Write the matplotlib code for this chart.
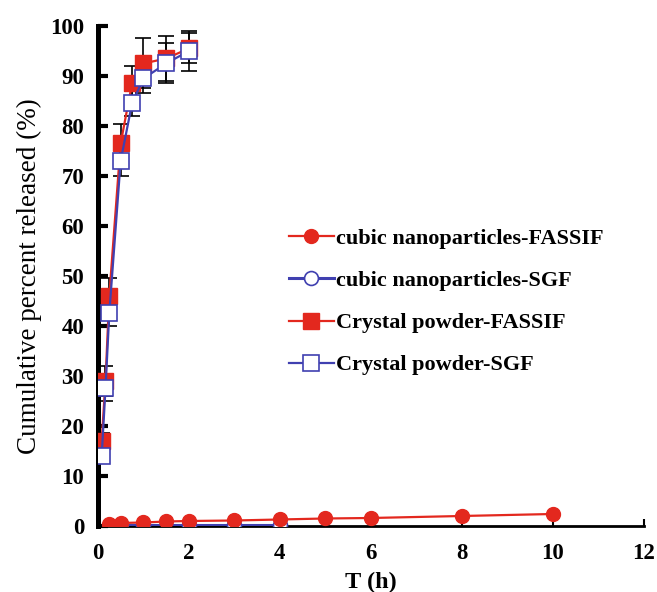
import numpy as np
import matplotlib
matplotlib.use("Agg")
import matplotlib.pyplot as plt

# --- dati ---
nano_t_fassif = [0.25, 0.5, 1, 1.5, 2, 3, 4, 5, 6, 8, 10]
nano_fassif = [0.3, 0.6, 0.7, 0.9, 1.0, 1.1, 1.3, 1.5, 1.6, 2.0, 2.4]

nano_t_sgf = [0.5, 1, 2, 3, 4]
nano_sgf = [0.1, 0.1, 0.1, 0.1, 0.1]

crystal_t = [0.083, 0.167, 0.25, 0.5, 0.75, 1, 1.5, 2]
crystal_fassif = [17, 29, 46, 76.5, 88.5, 92.5, 93.5, 95.5]
crystal_fassif_err = [1.5, 3, 3.5, 3.8, 3.5, 5, 4.5, 3]
crystal_sgf = [14, 27.5, 42.5, 73, 84.5, 89.5, 92.5, 95]
crystal_sgf_err = [1.5, 2.5, 2.5, 3, 2.5, 3, 4, 4]

labels = ["cubic nanoparticles-FASSIF", "cubic nanoparticles-SGF",
          "Crystal powder-FASSIF", "Crystal powder-SGF"]

red = "#e3281e"
blue = "#4040b0"
serif = "Liberation Serif"

fig = plt.figure(figsize=(6.57, 5.92), dpi=100)
ax = fig.add_axes([0.149, 0.1115, 0.831, 0.8446])

h1, = ax.plot(nano_t_fassif, nano_fassif, color=red, lw=1.6, marker="o",
              ms=10, mfc=red, mec=red, zorder=4)
h2, = ax.plot(nano_t_sgf, nano_sgf, color=blue, lw=2.2, marker="o",
              ms=10, mfc="white", mec=blue, mew=1.2, zorder=3)

ax.errorbar(crystal_t, crystal_fassif, yerr=crystal_fassif_err, fmt="none",
            ecolor="black", elinewidth=1.2, capsize=5.5, capthick=1.2, zorder=2)
ax.errorbar(crystal_t, crystal_sgf, yerr=crystal_sgf_err, fmt="none",
            ecolor="black", elinewidth=1.2, capsize=5.5, capthick=1.2, zorder=2)
h3, = ax.plot(crystal_t, crystal_fassif, color=red, lw=1.6, marker="s",
              ms=11.5, mfc=red, mec=red, zorder=3)
h4, = ax.plot(crystal_t, crystal_sgf, color=blue, lw=1.6, marker="s",
              ms=11.5, mfc="white", mec=blue, mew=1.2, zorder=4)

ax.set_xlim(0, 12)
ax.set_ylim(0, 100)
ax.set_xticks(np.arange(0, 13, 2))
ax.set_yticks(np.arange(0, 101, 10))

for s in ["top", "right"]:
    ax.spines[s].set_visible(False)
ax.spines["left"].set_linewidth(3.6)
ax.spines["bottom"].set_linewidth(2)
ax.tick_params(axis="y", direction="in", length=7, width=3, pad=10)
ax.tick_params(axis="x", direction="in", length=5, width=1.5, pad=12)

for lab in ax.get_xticklabels() + ax.get_yticklabels():
    lab.set_fontfamily(serif)
    lab.set_fontweight("bold")
    lab.set_fontsize(16.5)

ax.set_xlabel("T (h)", fontfamily=serif, fontweight="bold", fontsize=17.5, labelpad=6)
ax.set_ylabel("Cumulative percent released (%)", fontfamily=serif, fontsize=19.5, labelpad=6)

ax.legend([h1, h2, h3, h4], labels, loc="upper left", bbox_to_anchor=(0.33, 0.617),
          frameon=False, borderpad=0, labelspacing=0.97, handlelength=2.0,
          handletextpad=0.1, prop={"family": serif, "weight": "bold", "size": 16})

fig.savefig("out.png", dpi=100)
